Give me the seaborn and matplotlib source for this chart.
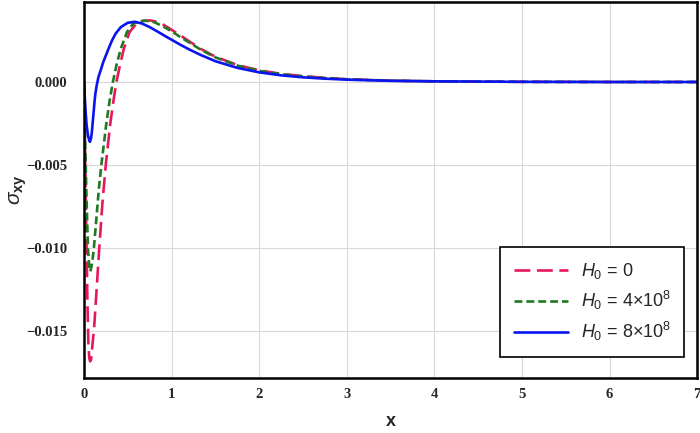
import numpy as np
import pandas as pd
import matplotlib
matplotlib.use("Agg")
import matplotlib.pyplot as plt
import seaborn as sns
from matplotlib.ticker import MultipleLocator, FuncFormatter

# values
x_h0 = [0, 0.01, 0.02, 0.03, 0.04, 0.05, 0.06, 0.07, 0.08, 0.09, 0.10, 0.114,
        0.14, 0.174, 0.21, 0.25, 0.30, 0.34, 0.37, 0.41, 0.455, 0.52, 0.60,
        0.68, 0.76, 0.85, 0.92, 1.0, 1.1, 1.2, 1.33, 1.5, 1.75, 2.0, 2.25,
        2.5, 2.75, 3.0, 3.5, 4.0, 5.0, 6.0, 7.0]
y_h0 = [0, -0.0035, -0.0068, -0.0102, -0.0135, -0.0157, -0.0166, -0.0168,
        -0.0167, -0.0162, -0.0156, -0.0149, -0.0128, -0.0100, -0.0073,
        -0.0049, -0.0025, -0.0010, 0.0000, 0.0010, 0.0020, 0.0030, 0.00352,
        0.00368, 0.0037, 0.0036, 0.0034, 0.00314, 0.0028, 0.00245, 0.0020,
        0.00152, 0.00102, 0.0007, 0.00049, 0.00035, 0.00025, 0.00017,
        0.00008, 0.00004, 0.00001, 0.0, 0.0]

x_h4 = [0, 0.01, 0.02, 0.03, 0.045, 0.06, 0.072, 0.085, 0.10, 0.114, 0.14,
        0.17, 0.20, 0.25, 0.29, 0.33, 0.37, 0.42, 0.49, 0.56, 0.64, 0.71,
        0.80, 0.90, 1.0, 1.1, 1.2, 1.33, 1.5, 1.75, 2.0, 2.25, 2.5, 2.75,
        3.0, 3.5, 4.0, 5.0, 6.0, 7.0]
y_h4 = [0, -0.0026, -0.0050, -0.0072, -0.0100, -0.0111, -0.0114, -0.0111,
        -0.0106, -0.0099, -0.0083, -0.0064, -0.0049, -0.0027, -0.0012,
        0.0000, 0.0010, 0.0020, 0.0030, 0.0035, 0.00366, 0.00368, 0.0036,
        0.00335, 0.00305, 0.0027, 0.00238, 0.00195, 0.00148, 0.00099,
        0.00067, 0.00047, 0.00033, 0.00024, 0.00016, 0.00008, 0.00004,
        0.00001, 0.0, 0.0]

x_h8 = [0, 0.01, 0.02, 0.03, 0.045, 0.058, 0.068, 0.08, 0.09, 0.10, 0.11,
        0.12, 0.13, 0.145, 0.165, 0.19, 0.22, 0.25, 0.28, 0.32, 0.36, 0.42,
        0.50, 0.58, 0.66, 0.75, 0.85, 0.93, 1.0, 1.1, 1.2, 1.33, 1.5, 1.75,
        2.0, 2.25, 2.5, 2.75, 3.0, 3.5, 4.0, 5.0, 6.0, 7.0]
y_h8 = [0, -0.0010, -0.0019, -0.0026, -0.0032, -0.0035, -0.0036, -0.0034,
        -0.0030, -0.0024, -0.0018, -0.0012, -0.0007, -0.0002, 0.0003,
        0.0007, 0.0012, 0.0016, 0.0020, 0.0025, 0.0029, 0.0033, 0.00356,
        0.00362, 0.00352, 0.0033, 0.0030, 0.00275, 0.00254, 0.00224,
        0.00196, 0.00163, 0.00125, 0.00085, 0.00058, 0.0004, 0.00028,
        0.0002, 0.00014, 0.00007, 0.00004, 0.00001, 0.0, 0.0]

labels = [r"$H_0$ = 0", r"$H_0$ = 4×10$^8$", r"$H_0$ = 8×10$^8$"]
colors = ["#e8175d", "#1f7a1f", "#0a14f0"]
styles = [(0, (6, 2.5)), (0, (3, 1.5)), "-"]

sns.set_style("white")
plt.rcParams["font.family"] = ["Liberation Sans", "DejaVu Sans"]
plt.rcParams["mathtext.fontset"] = "custom"
plt.rcParams["mathtext.rm"] = "Liberation Sans"
plt.rcParams["mathtext.it"] = "Liberation Sans:italic"
plt.rcParams["mathtext.bf"] = "Liberation Sans:bold"

fig = plt.figure(figsize=(7, 4.33), dpi=100)
ax = fig.add_axes([0.12, 0.127, 0.876, 0.868])

series = [(x_h0, y_h0), (x_h4, y_h4), (x_h8, y_h8)]
for (xs, ys), lab, col, ls in zip(series, labels, colors, styles):
    df = pd.DataFrame({"x": xs, "y": ys})
    sns.lineplot(data=df, x="x", y="y", ax=ax, color=col, linestyle=ls,
                 linewidth=1.9, label=lab)

ax.set_xlim(0, 7)
ax.set_ylim(-0.0178, 0.0048)
ax.xaxis.set_major_locator(MultipleLocator(1))
ax.xaxis.set_minor_locator(MultipleLocator(0.2))
ax.yaxis.set_major_locator(MultipleLocator(0.005))
ax.yaxis.set_minor_locator(MultipleLocator(0.001))
ax.yaxis.set_major_formatter(FuncFormatter(
    lambda v, p: f"{v:.3f}".replace("-", "\u2212")))
ax.grid(True, which="major", color="#d8d8d8", linewidth=0.8)

for s in ax.spines.values():
    s.set_linewidth(1.8)
    s.set_color("black")
ax.tick_params(which="both", direction="in", top=False, right=False,
               color="black")
ax.tick_params(which="major", length=5, width=1.4, pad=7)
ax.tick_params(which="minor", length=3, width=1.1)
ax.tick_params(axis="y", pad=12)
for t in ax.get_xticklabels() + ax.get_yticklabels():
    t.set_fontfamily("Liberation Serif")
    t.set_fontweight("bold")
    t.set_fontsize(10.5)

ax.set_xlabel("x", fontsize=13, fontweight="bold", labelpad=9)
ax.set_ylabel(r"$\sigma_{\mathbf{xy}}$", fontsize=15)
ax.yaxis.set_label_coords(-0.09, 0.5)

leg = ax.legend(loc="lower right", bbox_to_anchor=(0.979, 0.056),
                borderaxespad=0, fontsize=13, handlelength=3.0,
                labelspacing=0.45, fancybox=False, framealpha=1,
                edgecolor="black", borderpad=0.75, handletextpad=0.7)
leg.get_frame().set_linewidth(1.2)

fig.savefig("out.png", dpi=100)
